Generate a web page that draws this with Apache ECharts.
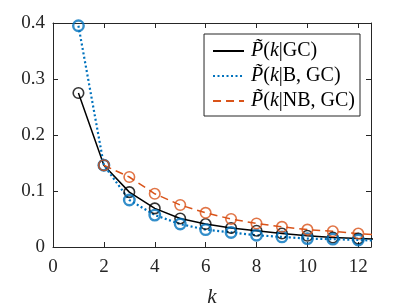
<!DOCTYPE html>
<html>
<head>
<meta charset="utf-8">
<script src="https://cdn.jsdelivr.net/npm/echarts@6/dist/echarts.min.js"></script>
<style>html,body{margin:0;padding:0;background:#fff;}#c{width:409px;height:307px;}</style>
</head>
<body>
<div id="c"></div>
<script>
var kValues = [1,2,3,4,5,6,7,8,9,10,11,12,13];
var pGC   = [0.275,0.146,0.098,0.069,0.051,0.041,0.034,0.029,0.024,0.020,0.017,0.015,0.0135];
var pB    = [0.395,0.146,0.084,0.057,0.041,0.031,0.026,0.021,0.018,0.015,0.014,0.0125,0.011];
var pNB   = [0.146,0.146,0.125,0.095,0.075,0.061,0.050,0.042,0.036,0.031,0.028,0.024,0.021];
var xTicks = [0,2,4,6,8,10,12];
var yTicks = [0,0.1,0.2,0.3,0.4];
var names = ['GC','B','NB'];

function pairs(vals, start){
  var out=[];
  for(var i=start;i<kValues.length;i++) out.push([kValues[i], vals[i]]);
  return out;
}
function markerPairs(vals, start){
  return pairs(vals,start).filter(function(p){return p[0]<=12;});
}
var FONT = 'Liberation Serif';
var axisCol = '#262626';
var chart = echarts.init(document.getElementById('c'), null, {renderer:'canvas'});
var LF = 20;
var rich = {
  P:{fontFamily:FONT,fontStyle:'italic',fontSize:LF,color:'#000',lineHeight:22},
  t:{fontFamily:FONT,fontSize:LF,color:'#000',lineHeight:22},
  k:{fontFamily:FONT,fontStyle:'italic',fontSize:LF,color:'#000',lineHeight:22}
};
var tickRich = {n:{fontFamily:FONT,fontSize:19,color:'#262626'}};
var legendText = {
  'GC':'{P|P\u0303}{t|(}{k|k}{t||GC)}',
  'B':'{P|P\u0303}{t|(}{k|k}{t||B, GC)}',
  'NB':'{P|P\u0303}{t|(}{k|k}{t||NB, GC)}'
};
var colors = {GC:'#000000', B:'#0072BD', NB:'#D95319'};
var lineStyles = {
  GC:{width:1.5,type:'solid',color:colors.GC},
  B:{width:2.2,type:[2,2.5],color:colors.B},
  NB:{width:1.5,type:[8,5],color:colors.NB}
};
var series = [];
var dataMap = {GC:[pGC,0], B:[pB,0], NB:[pNB,1]};
names.forEach(function(n){
  series.push({
    name:n, type:'line', data:pairs(dataMap[n][0],dataMap[n][1]),
    symbol:'none', showSymbol:false, lineStyle:lineStyles[n], itemStyle:{color:colors[n]}, z:2, animation:false, clip:true
  });
});
names.forEach(function(n){
  series.push({
    name:n+'m', type:'scatter', data:markerPairs(dataMap[n][0],dataMap[n][1]),
    symbol:'circle', symbolSize:10.5,
    itemStyle:{color:'rgba(0,0,0,0)', borderColor:colors[n], borderWidth:n==='B'?2.4:1.6},
    z:3, animation:false
  });
});
chart.setOption({
  animation:false,
  backgroundColor:'#fff',
  textStyle:{fontFamily:FONT},
  grid:{left:53,right:38,top:23,bottom:60,containLabel:false,outerBoundsMode:'none'},
  legend:{
    data:names.map(function(n){return {name:n, itemStyle:{opacity:0}};}),
    orient:'vertical', right:49, top:34,
    itemWidth:31, itemHeight:12, itemGap:5,
    backgroundColor:'#fff', borderColor:axisCol, borderWidth:1,
    padding:[7,5,5,8],
    formatter:function(n){return legendText[n];},
    textStyle:{rich:rich, fontFamily:FONT, fontSize:LF, padding:[0,0,0,2]}
  },
  xAxis:[{
    type:'value', min:0, max:12.5, interval:2,
    axisLine:{lineStyle:{color:axisCol,width:1}},
    axisTick:{inside:true,length:5,lineStyle:{color:axisCol}},
    axisLabel:{color:'#262626',fontFamily:FONT,fontSize:19,margin:11,rich:tickRich,
      customValues:xTicks, formatter:function(v){return '{n|'+String(v)+'}';}},
    splitLine:{show:false},
    name:'k', nameLocation:'middle', nameGap:40,
    nameTextStyle:{fontFamily:FONT,fontStyle:'italic',fontSize:21,color:'#262626'}
  },{
    type:'value', min:0, max:12.5, interval:2, position:'top',
    axisLine:{onZero:false,lineStyle:{color:axisCol,width:1}},
    axisTick:{inside:true,length:5,lineStyle:{color:axisCol}},
    axisLabel:{show:false}, splitLine:{show:false}
  }],
  yAxis:[{
    type:'value', min:0, max:0.4, interval:0.1,
    axisLine:{show:true,lineStyle:{color:axisCol,width:1}},
    axisTick:{show:true,inside:true,length:5,lineStyle:{color:axisCol}},
    axisLabel:{color:'#262626',fontFamily:FONT,fontSize:19,margin:8,rich:tickRich,
      formatter:function(v){return '{n|'+(Math.round(v*10)/10).toString()+'}';}},
    splitLine:{show:false}
  },{
    type:'value', min:0, max:0.4, interval:0.1, position:'right',
    axisLine:{show:true,onZero:false,lineStyle:{color:axisCol,width:1}},
    axisTick:{show:true,inside:true,length:5,lineStyle:{color:axisCol}},
    axisLabel:{show:false}, splitLine:{show:false}
  }],
  series:series
});
</script>
</body>
</html>
